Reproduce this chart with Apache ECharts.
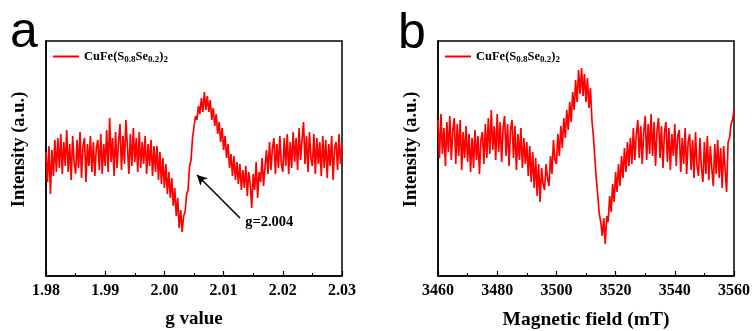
<!DOCTYPE html>
<html><head><meta charset="utf-8">
<script src="https://cdn.jsdelivr.net/npm/echarts@6/dist/echarts.min.js"></script>
<style>html,body{margin:0;padding:0;background:#fff}#c{width:753px;height:331px}</style>
</head><body><div id="c"></div>
<script>
// Panel a: g value grid (start, step) and intensity (a.u.)
const gStart = 1.98, gStep = 0.00025;
const intensityA = [
8,-22,14,-34,10,-16,20,-12,22,-8,
26,-14,18,-6,30,-12,16,-20,24,-2,
-14,20,-8,28,-18,14,22,-22,16,-6,
24,-12,18,-16,12,20,-10,26,-14,16,
-6,30,-12,42,-2,22,-16,28,-8,18,
36,-10,24,-4,40,14,-14,26,-6,32,
-2,22,-12,28,-8,18,-4,24,-14,16,
-6,20,-16,14,-12,14,-20,8,-24,2,
-28,-4,-34,-12,-38,-18,-46,-28,-56,-38,
-68,-50,-72,-56,-52,-34,-30,-6,0,22,
24,44,40,54,46,62,48,68,50,64,
48,60,40,52,34,46,26,38,18,32,
10,24,2,16,-8,6,-16,4,-20,-2,
-24,-4,-30,-10,-28,-6,-36,-12,-24,-48,
-14,-30,-2,-38,-12,-22,2,-26,-6,10,
-14,18,-10,12,22,-14,16,-8,24,-4,
-12,22,-6,26,-14,18,-8,28,-2,22,
-10,32,0,20,38,-4,24,-12,28,2,
-6,26,-14,22,-4,18,-16,24,-8,20,
-18,16,-6,24,-20,12,18,-10,26,-4,
16];
// Panel b: magnetic field grid (mT) and intensity (a.u.)
const bStart = 3460, bStep = 0.5;
const intensityB = [
40,2,46,6,32,-6,38,8,44,0,
30,42,-4,36,4,40,-10,28,2,34,
-2,26,-12,22,-8,30,0,24,-14,20,
28,-4,36,2,42,6,50,10,34,0,
46,8,38,-2,32,44,4,36,-6,30,
40,2,34,-10,26,0,32,-8,22,-4,
18,-16,14,-22,8,-28,2,-36,-4,-42,
-8,-24,-30,-4,-18,-26,4,-14,20,0,
-4,26,4,34,12,42,22,50,30,58,
38,68,50,80,58,90,66,92,64,86,
58,82,52,72,40,24,2,-20,-36,-54,
-62,-76,-58,-84,-56,-62,-36,-52,-24,-42,
-12,-32,-4,-26,4,-18,12,-12,18,-6,
22,-4,32,0,26,40,2,34,-4,28,
44,0,36,6,46,4,38,-6,30,42,
2,34,-8,28,38,-2,32,-10,26,4,
36,-6,24,30,-12,22,-4,32,-14,18,
26,-10,20,-18,28,-6,-16,22,-8,-22,
18,-14,24,-20,14,-8,-26,16,-14,20,
-18,12,-28,14,-10,-32,18,22,36,40,
50];
const annotationText = 'g=2.004';
const arrowFrom = [2.01277, -58], arrowTo = [2.00551, -15];

const dataA = intensityA.map((v,i)=>[+(gStart+i*gStep).toFixed(5), v]);
const dataB = intensityB.map((v,i)=>[+(bStart+i*bStep).toFixed(2), v]);

const serif = 'Liberation Serif';
const black = '#000';
function xAx(idx, min, max, interval, name, dec, nameSize){
  return {gridIndex: idx, type:'value', min, max, interval,
    name, nameLocation:'middle', nameGap: 34,
    nameTextStyle:{fontFamily:serif, fontWeight:'bold', fontSize:nameSize, color:black},
    axisLine:{show:true, onZero:false, lineStyle:{color:black, width:1.5}},
    axisTick:{show:true, inside:true, length:5, lineStyle:{color:black, width:1.2}},
    minorTick:{show:true, splitNumber:2, length:3, lineStyle:{color:black, width:1}},
    axisLabel:{fontFamily:serif, fontWeight:'bold', fontSize:16, color:black, margin:7,
      formatter: v => v.toFixed(dec)},
    splitLine:{show:false}, minorSplitLine:{show:false}};
}
function yAx(idx){
  return {gridIndex: idx, type:'value', min:-116, max:119,
    name:'Intensity (a.u.)', nameLocation:'middle', nameGap: 17,
    nameTextStyle:{fontFamily:serif, fontWeight:'bold', fontSize:18.5, color:black, padding:[0,0,0,18]},
    axisLine:{show:true, lineStyle:{color:black, width:1.5}},
    axisTick:{show:false}, axisLabel:{show:false}, splitLine:{show:false}};
}
const rich = {
  m:{fontFamily:serif, fontWeight:'bold', fontSize:12.5, color:black},
  s:{fontFamily:serif, fontWeight:'bold', fontSize:9, color:black, padding:[6,0,0,0]}
};
const legendFmt = () => '{m|CuFe(S}{s|0.8}{m|Se}{s|0.2}{m|)}{s|2}';
function legend(left, name){
  return {data:[name], left, top:45, itemWidth:26, itemHeight:2, itemGap:4,
    icon:'rect', formatter: legendFmt, textStyle:{rich}};
}
const chart = echarts.init(document.getElementById('c'));
chart.setOption({
  animation:false,
  grid:[
    {left:46, right:411, top:41, bottom:55, show:true, borderColor:black, borderWidth:1.5, outerBoundsMode:'none', containLabel:false},
    {left:438, right:19, top:41, bottom:55, show:true, borderColor:black, borderWidth:1.5, outerBoundsMode:'none', containLabel:false}
  ],
  xAxis:[xAx(0,1.98,2.03,0.01,'g value',2,19), xAx(1,3460,3560,20,'Magnetic field (mT)',0,19.5)],
  yAxis:[yAx(0), yAx(1)],
  legend:[legend(48,'A'), legend(440,'B')],
  graphic:[
    {type:'text', left:10, top:8, style:{text:'a', fontFamily:'Liberation Sans', fontSize:50, fill:black}},
    {type:'text', left:398, top:9, style:{text:'b', fontFamily:'Liberation Sans', fontSize:50, fill:black}}
  ],
  series:[
    {name:'A', type:'line', xAxisIndex:0, yAxisIndex:0, data:dataA, showSymbol:false, symbol:'none',
      lineStyle:{color:'#ff0000', width:1.7}, itemStyle:{color:'#ff0000'},
      markLine:{silent:true, symbol:['none','arrow'], symbolSize:[8,10], label:{show:false},
        lineStyle:{color:black, width:1.5, type:'solid'},
        data:[[{coord:arrowFrom},{coord:arrowTo}]]},
      markPoint:{silent:true, symbol:'circle', symbolSize:0,
        label:{show:true, position:'right', formatter: annotationText,
          fontFamily:serif, fontWeight:'bold', fontSize:14.5, color:black, offset:[-3,0]},
        data:[{coord:[2.0133,-62]}]}
    },
    {name:'B', type:'line', xAxisIndex:1, yAxisIndex:1, data:dataB, showSymbol:false, symbol:'none',
      lineStyle:{color:'#ff0000', width:1.7}, itemStyle:{color:'#ff0000'}}
  ]
});
</script></body></html>
